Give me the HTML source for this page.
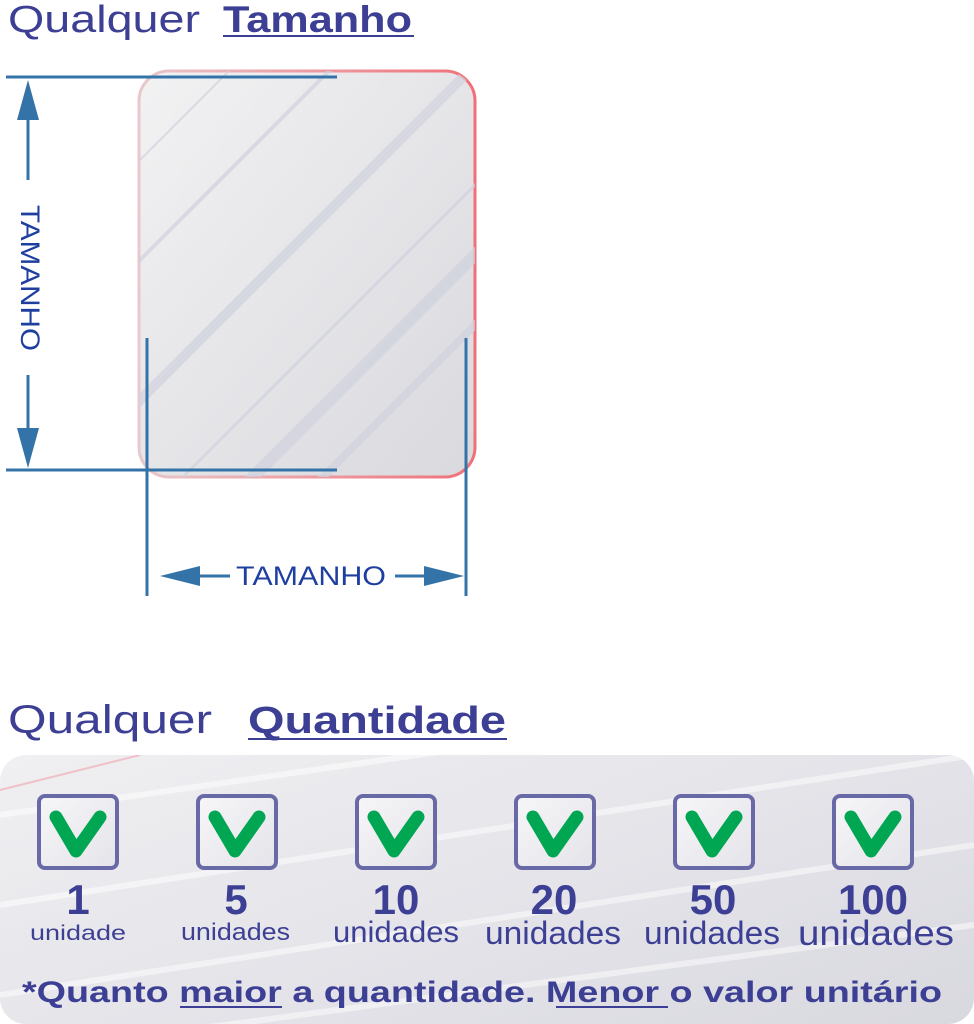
<!DOCTYPE html>
<html><head><meta charset="utf-8"><style>
body{margin:0;width:974px;height:1024px;background:#fff;overflow:hidden;position:relative;font-family:"Liberation Sans",sans-serif;color:#3c3f94}
.box{position:absolute;width:82px;height:76px;border:4px solid #6a69a8;border-radius:8px;background:linear-gradient(135deg,#f6f6f8,#e4e4ea);box-sizing:border-box}
</style></head><body>

<svg width="974" height="640" style="position:absolute;left:0;top:0">
<defs>
<linearGradient id="g" x1="0" y1="0" x2="1" y2="1"><stop offset="0" stop-color="#f2f2f3"/><stop offset="1" stop-color="#d9d9de"/></linearGradient>
<linearGradient id="bd" x1="0" y1="0" x2="1" y2="0"><stop offset="0" stop-color="#e8c8cc"/><stop offset="1" stop-color="#f07078"/></linearGradient>
<clipPath id="c"><rect x="139" y="71" width="336" height="406" rx="30"/></clipPath>
</defs>
<text x="8" y="32" font-family="Liberation Sans" font-size="38" fill="#3c3f94" textLength="192" lengthAdjust="spacingAndGlyphs">Qualquer</text>
<text x="223" y="32" font-family="Liberation Sans" font-weight="bold" font-size="37" fill="#3c3f94" textLength="189" lengthAdjust="spacingAndGlyphs">Tamanho</text>
<line x1="223" y1="36" x2="414" y2="36" stroke="#3c3f94" stroke-width="2"/>
<rect x="139" y="71" width="336" height="406" rx="30" fill="url(#g)" stroke="url(#bd)" stroke-width="3"/>
<g clip-path="url(#c)" stroke="#d0d2de" opacity="0.7">
<line x1="100" y1="300" x2="400" y2="0" stroke-width="4"/><line x1="120" y1="420" x2="520" y2="20" stroke-width="10"/><line x1="180" y1="480" x2="560" y2="100" stroke-width="3"/><line x1="300" y1="500" x2="600" y2="200" stroke-width="8"/><line x1="100" y1="200" x2="300" y2="0" stroke-width="2"/><line x1="230" y1="500" x2="560" y2="170" stroke-width="12"/>
</g>
<g stroke="#3473a8" stroke-width="3" fill="#3473a8">
<line x1="6" y1="77" x2="337" y2="77"/>
<line x1="6" y1="470" x2="337" y2="470"/>
<line x1="28" y1="110" x2="28" y2="180"/>
<line x1="28" y1="375" x2="28" y2="440"/>
<polygon points="28,80 17,120 39,120" stroke="none"/>
<polygon points="28,468 17,428 39,428" stroke="none"/>
<line x1="147" y1="338" x2="147" y2="596"/>
<line x1="466" y1="338" x2="466" y2="596"/>
<line x1="190" y1="576" x2="230" y2="576"/>
<line x1="395" y1="576" x2="430" y2="576"/>
<polygon points="160,576 200,566 200,586" stroke="none"/>
<polygon points="464,576 424,566 424,586" stroke="none"/>
</g>
<text x="236" y="585" font-family="Liberation Sans" font-size="27" fill="#1f3fa0" textLength="150" lengthAdjust="spacingAndGlyphs">TAMANHO</text>
<text transform="translate(21,205) rotate(90)" font-family="Liberation Sans" font-size="27" fill="#1f3fa0" textLength="146" lengthAdjust="spacingAndGlyphs">TAMANHO</text>
</svg>

<div style="position:absolute;left:0;top:755px;width:974px;height:269px;border-radius:26px;background:linear-gradient(160deg,#f0f0f2,#e2e2e8 60%,#d8d8df);overflow:hidden">
<svg width="974" height="269" style="position:absolute;left:0;top:0"><g stroke="#fff" stroke-width="6" opacity="0.5">
<line x1="0" y1="60" x2="974" y2="-80"/><line x1="0" y1="150" x2="974" y2="0"/><line x1="0" y1="240" x2="974" y2="90"/><line x1="0" y1="300" x2="974" y2="170"/></g>
<line x1="0" y1="35" x2="140" y2="0" stroke="#f0c0c8" stroke-width="2"/></svg>
</div>

<svg width="0" height="0" style="position:absolute"><defs><symbol id="v" viewBox="0 0 60 50"><path d="M8 8 L28 42 L52 8" fill="none" stroke="#00a651" stroke-width="13" stroke-linecap="round" stroke-linejoin="round"/></symbol></defs></svg>

<div class="box" style="left:37px;top:794px"><svg width="60" height="50" style="position:absolute;left:7px;top:11px"><use href="#v"/></svg></div>
<div class="box" style="left:196px;top:794px"><svg width="60" height="50" style="position:absolute;left:7px;top:11px"><use href="#v"/></svg></div>
<div class="box" style="left:355px;top:794px"><svg width="60" height="50" style="position:absolute;left:7px;top:11px"><use href="#v"/></svg></div>
<div class="box" style="left:514px;top:794px"><svg width="60" height="50" style="position:absolute;left:7px;top:11px"><use href="#v"/></svg></div>
<div class="box" style="left:673px;top:794px"><svg width="60" height="50" style="position:absolute;left:7px;top:11px"><use href="#v"/></svg></div>
<div class="box" style="left:832px;top:794px"><svg width="60" height="50" style="position:absolute;left:7px;top:11px"><use href="#v"/></svg></div>

<svg width="974" height="1024" style="position:absolute;left:0;top:0" font-family="Liberation Sans" fill="#3c3f94">
<text x="8" y="733" font-size="40" textLength="204" lengthAdjust="spacingAndGlyphs">Qualquer</text>
<text x="248" y="733" font-size="38" font-weight="bold" textLength="258" lengthAdjust="spacingAndGlyphs">Quantidade</text>
<line x1="248" y1="739" x2="507" y2="739" stroke="#3c3f94" stroke-width="2"/>
<g font-weight="bold" font-size="42" text-anchor="middle">
<text x="78" y="914">1</text><text x="236" y="914">5</text><text x="396" y="914">10</text><text x="554" y="914">20</text><text x="713" y="914">50</text><text x="873" y="914">100</text>
</g>
<text x="30" y="940" font-size="21" textLength="96" lengthAdjust="spacingAndGlyphs">unidade</text>
<text x="181" y="940" font-size="24" textLength="109" lengthAdjust="spacingAndGlyphs">unidades</text>
<text x="333" y="942" font-size="30" textLength="126" lengthAdjust="spacingAndGlyphs">unidades</text>
<text x="485" y="944" font-size="32" textLength="136" lengthAdjust="spacingAndGlyphs">unidades</text>
<text x="644" y="944" font-size="32" textLength="136" lengthAdjust="spacingAndGlyphs">unidades</text>
<text x="798" y="945" font-size="35" textLength="156" lengthAdjust="spacingAndGlyphs">unidades</text>
<text x="22" y="1002" font-size="30" font-weight="bold" textLength="920" lengthAdjust="spacingAndGlyphs">*Quanto maior a quantidade. Menor o valor unitário</text>
<line x1="180" y1="1007" x2="282" y2="1007" stroke="#3c3f94" stroke-width="2"/>
<line x1="556" y1="1007" x2="668" y2="1007" stroke="#3c3f94" stroke-width="2"/>
</svg>
</body></html>
